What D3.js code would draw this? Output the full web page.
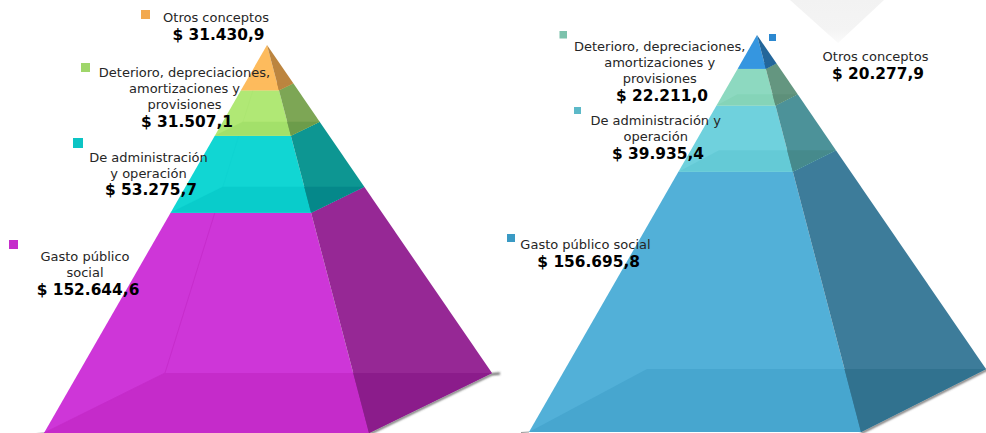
<!DOCTYPE html>
<html>
<head>
<meta charset="utf-8">
<script src="https://cdn.jsdelivr.net/npm/d3@7"></script>
<style>
html,body{margin:0;padding:0;background:#fff;overflow:hidden}
svg{display:block}
text{font-family:"DejaVu Sans",Verdana,sans-serif;text-anchor:middle}
.name{font-size:13px;fill:#262626}
.val{font-size:15.4px;font-weight:bold;fill:#000}
</style>
</head>
<body>
<svg id="chart" width="986" height="433"></svg>
<script>
// Data, top slice first
const leftCategories  = ["Otros conceptos", "Deterioro, depreciaciones, amortizaciones y provisiones", "De administración y operación", "Gasto público social"];
const leftValues  = [31430.9, 31507.1, 53275.7, 152644.6];
const leftLabels  = ["$ 31.430,9", "$ 31.507,1", "$ 53.275,7", "$ 152.644,6"];
const rightCategories = leftCategories;
const rightValues = [20277.9, 22211.0, 39935.4, 156695.8];
const rightLabels = ["$ 20.277,9", "$ 22.211,0", "$ 39.935,4", "$ 156.695,8"];

// Wrapped category lines as shown in each panel
const leftLines = [["Otros conceptos"], ["Deterioro, depreciaciones,", "amortizaciones y", "provisiones"], ["De administración", "y operación"], ["Gasto público", "social"]];
const rightLines = [["Otros conceptos"], ["Deterioro, depreciaciones,", "amortizaciones y", "provisiones"], ["De administración y", "operación"], ["Gasto público social"]];

// Styles: [front, side, floor, sideFloor, marker]
const leftColors = [
  ["#FDBB5D", "#BC853F", "#FDBB5D", "#BC853F", "#F2A950"],
  ["#B0E875", "#7DA655", "#A3E06A", "#6C9C4A", "#9FD66A"],
  ["#11D6D3", "#0D9692", "#09CCCB", "#05888A", "#0CC4C4"],
  ["#CE36D8", "#962895", "#C52BCA", "#8B1C8B", "#C52DCB"]
];
const rightColors = [
  ["#3596E0", "#23669A", "#3596E0", "#23669A", "#2C88D0"],
  ["#8DD9C0", "#649680", "#85D4B8", "#5E907A", "#7CC2AC"],
  ["#6FD1DD", "#4C9299", "#64CAD6", "#468A8C", "#5CB9C8"],
  ["#52B0D8", "#3D7C9A", "#47A6CF", "#31728F", "#3A9AC4"]
];
const leftEdgeOpacity = [0, 0.3, 0.25, 0.9];
const rightEdgeOpacity = [0, 0, 0, 0];

// Layout of the two solids and their labels
const leftSolid  = {apex:[267,45], fl:[44,433], fr:[369,433], br:[492,373], bl:[165,373]};
const rightSolid = {apex:[757,35], fl:[529,432], fr:[861,432], br:[986,369], bl:[647,369]};
// per slice: marker x,y,size, line centre x, first baseline, value centre x, value baseline
const leftPlace = [
  {mx:141,my:10,ms:9, cx:216,y:22,  vx:218.5,vy:40},
  {mx:81, my:63,ms:9, cx:184.5,y:77,vx:187,vy:126.7},
  {mx:73, my:138,ms:10,cx:148.5,y:161.7,vx:151,vy:195},
  {mx:9,  my:240,ms:9, cx:85,y:260.7,vx:88,vy:295}
];
const rightPlace = [
  {mx:769,my:34,ms:7, cx:875.5,y:61.3,vx:878,vy:79.3},
  {mx:559.5,my:31,ms:7.5,cx:659.7,y:51,vx:662,vy:100.7},
  {mx:574,my:107,ms:7,cx:655.7,y:125.3,vx:658,vy:159},
  {mx:507,my:234,ms:8,cx:585.5,y:249.3,vx:588.7,vy:267.3}
];

const svg = d3.select("#chart");
const defs = svg.append("defs");
defs.append("filter").attr("id","blur").attr("x","-10%").attr("y","-50%").attr("width","120%").attr("height","200%")
  .append("feGaussianBlur").attr("stdDeviation",0.9);
const wm = defs.append("linearGradient").attr("id","wm").attr("x1",0).attr("y1",0).attr("x2",0).attr("y2",1);
wm.append("stop").attr("offset",0).attr("stop-color","#f2f2f2");
wm.append("stop").attr("offset",0.7).attr("stop-color","#f4f4f4");
wm.append("stop").attr("offset",1).attr("stop-color","#fbfbfb");

// Watermark chevron behind the right solid
svg.append("path").attr("d","M790,0L838,43L884,0Z").attr("fill","url(#wm)");

const line = d3.line();
function drawPyramid(solid, values, lines, labels, colors, place, edgeOpacity){
  const g = svg.append("g");
  const total = d3.sum(values);
  const cum = [0, ...d3.cumsum(values)];
  const t = d3.scaleLinear().domain([0,total]).range([0,1]);
  const at = (corner, v) => d3.interpolate(solid.apex, solid[corner])(t(v));
  const poly = pts => line(pts) + "Z";

  // ground shadow
  g.append("path").attr("d", line([[solid.fl[0]-8,solid.fl[1]+0.5], solid.fl]))
    .attr("stroke","#999").attr("stroke-width",1).attr("fill","none");
  g.append("path").attr("d", line([[solid.fr[0],solid.fr[1]+1.2],[solid.br[0],solid.br[1]+1.2],[solid.br[0]+8,solid.br[1]+0.5]]))
    .attr("stroke","#555").attr("stroke-width",2).attr("fill","none").attr("filter","url(#blur)");

  // slices drawn bottom-up so upper slices sit over the lower one's top
  d3.range(values.length-1,-1,-1).forEach(i=>{
    const a = cum[i], b = cum[i+1], c = colors[i];
    // front (and see-through back) face
    g.append("path").attr("d",poly([at("fl",a),at("fl",b),at("fr",b),at("fr",a)])).attr("fill",c[0]);
    // floor seen through the front
    g.append("path").attr("d",poly([at("fl",b),at("fr",b),at("br",b),at("bl",b)])).attr("fill",c[2]);
    // side face
    g.append("path").attr("d",poly([at("fr",a),at("fr",b),at("br",b),at("br",a)])).attr("fill",c[1]);
    // side floor overlap: portion of the side face below the back floor edge
    const yb = at("bl",b)[1];
    const k = (yb - at("fr",a)[1])/(at("fr",b)[1]-at("fr",a)[1]);
    const sx = at("fr",a)[0]+(at("fr",b)[0]-at("fr",a)[0])*k;
    g.append("path").attr("d",poly([[sx,yb],at("fr",b),at("br",b)])).attr("fill",c[3]);
    // inner back-left edges
    if(edgeOpacity[i]>0){
      const top = at("bl",a), bot = at("bl",b);
      const ftop = at("fl",a)[1];
      const k2 = Math.max(0,(ftop-top[1])/(bot[1]-top[1]));
      const start = [top[0]+(bot[0]-top[0])*k2, top[1]+(bot[1]-top[1])*k2];
      g.append("path").attr("d",line([start,bot,at("fl",b)]))
        .attr("stroke",c[2]).attr("stroke-width",1).attr("fill","none").attr("opacity",edgeOpacity[i]);
    }
  });

  // markers and labels
  values.forEach((v,i)=>{
    const p = place[i];
    g.append("rect").attr("x",p.mx).attr("y",p.my).attr("width",p.ms).attr("height",p.ms).attr("fill",colors[i][4]);
    lines[i].forEach((s,j)=>{
      g.append("text").attr("class","name").attr("x",p.cx).attr("y",p.y+j*15.8).text(s);
    });
    g.append("text").attr("class","val").attr("x",p.vx).attr("y",p.vy).text(labels[i]);
  });
}
drawPyramid(leftSolid, leftValues, leftLines, leftLabels, leftColors, leftPlace, leftEdgeOpacity);
drawPyramid(rightSolid, rightValues, rightLines, rightLabels, rightColors, rightPlace, rightEdgeOpacity);
</script>
</body>
</html>
